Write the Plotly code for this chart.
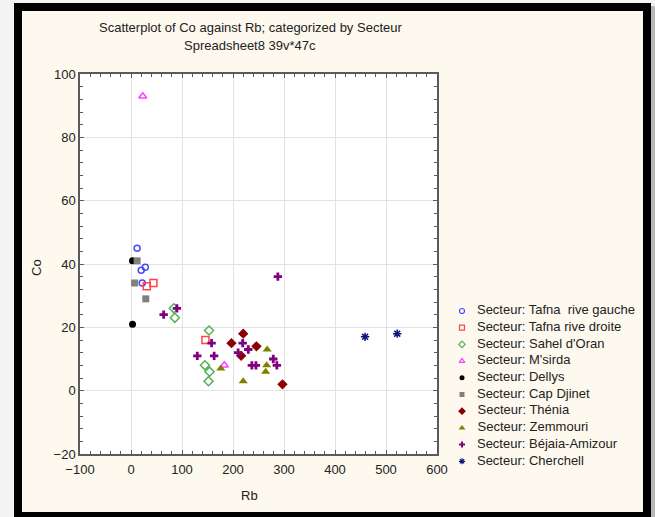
import plotly.graph_objects as go

# Rb / Co values per sector
tafna_g_rb = [12, 20, 28, 22]
tafna_g_co = [45, 38, 39, 34]
tafna_d_rb = [31, 44, 146]
tafna_d_co = [33, 34, 16]
sahel_rb = [84, 86, 153, 145, 154, 152]
sahel_co = [26, 23, 19, 8, 6, 3]
msirda_rb = [23, 183]
msirda_co = [93, 8]
dellys_rb = [3, 3]
dellys_co = [41, 21]
djinet_rb = [12, 7, 29]
djinet_co = [41, 34, 29]
thenia_rb = [220, 197, 246, 216, 297]
thenia_co = [18, 15, 14, 11, 2]
zemmouri_rb = [267, 266, 264, 176, 220]
zemmouri_co = [13, 8, 6, 7, 3]
bejaia_rb = [90, 64, 288, 158, 219, 210, 230, 130, 163, 279, 286, 237, 245]
bejaia_co = [26, 24, 36, 15, 15, 12, 13, 11, 11, 10, 8, 8, 8]
cherchell_rb = [459, 522]
cherchell_co = [17, 18]

series = [
    ("Secteur: Tafna  rive gauche", tafna_g_rb, tafna_g_co, "circle-open", "#4848ff", 6),
    ("Secteur: Tafna rive droite", tafna_d_rb, tafna_d_co, "square-open", "#ff4545", 7),
    ("Secteur: Sahel d'Oran", sahel_rb, sahel_co, "diamond-open", "#55b055", 7),
    ("Secteur: M'sirda", msirda_rb, msirda_co, "triangle-up-open", "#ff40ff", 7),
    ("Secteur: Dellys", dellys_rb, dellys_co, "circle", "#000000", 7),
    ("Secteur: Cap Djinet", djinet_rb, djinet_co, "square", "#808080", 7),
    ("Secteur: Thénia", thenia_rb, thenia_co, "diamond", "#8b0000", 8),
    ("Secteur: Zemmouri", zemmouri_rb, zemmouri_co, "triangle-up", "#808000", 8),
    ("Secteur: Béjaia-Amizour", bejaia_rb, bejaia_co, "cross", "#800080", 7),
    ("Secteur: Cherchell", cherchell_rb, cherchell_co, "asterisk-open", "#101080", 7),
]

FONT = "Arial, Liberation Sans, sans-serif"
TXT = "#222222"
W, H = 655, 517
# plot rectangle (pixels)
PL, PR, PT, PB = 80, 437, 74, 454
# legend block (pixels): symbol column start, first row centre, row pitch
LEG_X0 = 455
LEG_ROW0, LEG_ROW_STEP = 311, 16.7


def px(x):
    return x / W


def py(y):
    return (H - y) / H


fig = go.Figure()
for name, xs, ys, sym, col, sz in series:
    open_sym = sym.endswith("-open")
    fig.add_trace(go.Scatter(
        x=xs, y=ys, mode="markers", name=name, showlegend=False,
        marker=dict(symbol=sym, size=sz, color=col,
                    line=dict(color=col, width=1.5 if open_sym else 0)),
    ))

# legend drawn on its own small axes: one row per sector
for i, (name, xs, ys, sym, col, sz) in enumerate(series):
    open_sym = sym.endswith("-open")
    fig.add_trace(go.Scatter(
        x=[0], y=[i], mode="markers+text", xaxis="x2", yaxis="y2",
        showlegend=False, hoverinfo="skip", cliponaxis=False,
        text=["   " + name], textposition="middle right",
        textfont=dict(family=FONT, size=13, color=TXT),
        marker=dict(symbol=sym, size=max(sz - 2, 5), color=col,
                    line=dict(color=col, width=1.2 if open_sym else 0)),
    ))

axis_common = dict(
    showline=True, linecolor="#5a5a5a", linewidth=1.5, mirror="ticks",
    ticks="inside", ticklen=4, tickcolor="#5a5a5a",
    showgrid=True, gridcolor="#e2e2e2", gridwidth=1, zeroline=False,
    tickfont=dict(family=FONT, size=13, color=TXT), automargin=False,
    minor=dict(ticks="inside", ticklen=3, tickcolor="#5a5a5a", showgrid=False),
)

# legend rows run downward over the full figure height:
# row i sits at pixel LEG_ROW0 + i*LEG_ROW_STEP
top_val = -LEG_ROW0 / LEG_ROW_STEP
bot_val = (H - LEG_ROW0) / LEG_ROW_STEP

fig.update_layout(
    xaxis=dict(domain=[px(PL), px(PR)], range=[-100, 600], dtick=100,
               tick0=-100, minor_dtick=20, ticklabelstandoff=3, **axis_common),
    yaxis=dict(domain=[py(PB), py(PT)], range=[-20, 100], dtick=20, tick0=-20,
               minor_dtick=4, **axis_common),
    xaxis2=dict(domain=[px(LEG_X0), 1], range=[-7, 193], visible=False,
                fixedrange=True, automargin=False),
    yaxis2=dict(domain=[0, 1], anchor="x2", range=[bot_val, top_val],
                visible=False, fixedrange=True, automargin=False),
)

shapes = [
    # drop shadow, black frame, cream panel, white plot area
    dict(type="rect", xref="paper", yref="paper", layer="below",
         x0=px(16), x1=px(655), y0=py(517), y1=py(6),
         fillcolor="#b8b8b8", line=dict(width=0)),
    dict(type="rect", xref="paper", yref="paper", layer="below",
         x0=px(14), x1=px(651), y0=py(517), y1=py(3),
         fillcolor="#000000", line=dict(width=0)),
    dict(type="rect", xref="paper", yref="paper", layer="below",
         x0=px(22), x1=px(643), y0=py(512), y1=py(11),
         fillcolor="#fef9ee", line=dict(width=0)),
    dict(type="rect", xref="paper", yref="paper", layer="below",
         x0=px(PL), x1=px(PR), y0=py(PB), y1=py(PT),
         fillcolor="#ffffff", line=dict(width=0)),
]


def label(text, x, y, angle=0):
    return dict(text=text, x=px(x), y=py(y), xref="paper", yref="paper",
                xanchor="center", yanchor="middle", showarrow=False,
                textangle=angle, font=dict(family=FONT, size=13, color=TXT))


annotations = [
    label("Scatterplot of Co against Rb; categorized by Secteur", 250, 27),
    label("Spreadsheet8 39v*47c", 250, 45),
    label("Rb", 249, 495),
    label("Co", 36, 268, -90),
]

fig.update_layout(
    width=W, height=H,
    margin=dict(l=0, r=0, t=0, b=0, autoexpand=False),
    paper_bgcolor="#f4f4f4", plot_bgcolor="rgba(0,0,0,0)",
    shapes=shapes, annotations=annotations, showlegend=False,
)

fig.write_html("out.html")
